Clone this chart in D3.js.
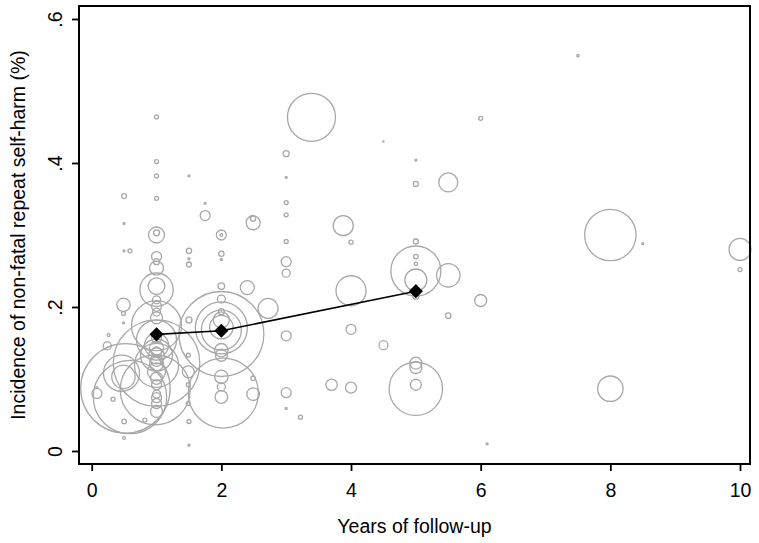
<!DOCTYPE html>
<html>
<head>
<meta charset="utf-8">
<script src="https://cdn.jsdelivr.net/npm/d3@7/dist/d3.min.js"></script>
<style>
  html, body { margin: 0; padding: 0; background: #fff; }
  svg { display: block; font-family: "Liberation Sans", Arial, sans-serif; }
</style>
</head>
<body>
<svg id="chart" width="759" height="543"></svg>
<script>
// ---- Data: study-level estimates (bubble size = study weight) ----
const years = [
  3.39, 8.0, 8.0, 10.0, 10.0, 8.5, 6.0, 6.1, 7.5, 6.0,
  3.0, 3.0, 3.0, 3.0, 3.0, 3.0, 3.0, 4.5, 5.0, 5.0,
  5.5, 3.88, 4.0, 5.0, 5.0, 5.0, 5.0, 5.0, 5.0, 5.5,
  4.0, 5.5, 4.0, 4.5, 5.0, 5.0, 5.0, 5.0, 3.7, 4.0,
  3.22, 1.75, 1.75, 2.49, 2.49, 2.0, 2.0, 1.5, 1.5, 1.5,
  2.0, 2.0, 2.4, 2.72, 3.0, 2.0, 2.0, 2.0, 2.0, 2.0,
  2.0, 1.5, 2.0, 2.0, 2.03, 2.0, 2.0, 2.0, 2.49, 2.49,
  1.5, 1.5, 3.0, 3.0, 0.5, 1.0, 1.0, 1.0, 1.0, 1.5,
  0.5, 1.0, 1.0, 0.5, 0.59, 1.0, 1.0, 1.0, 1.0, 1.0,
  0.49, 0.49, 0.49, 1.0, 0.52, 0.59, 0.98, 0.46, 0.49, 1.0,
  0.08, 0.33, 0.5, 0.82, 0.5, 0.26, 0.24, 1.49, 1.49, 1.0,
  1.0, 1.49, 1.0, 1.0, 1.0, 1.0, 1.0, 1.0, 1.0, 1.0,
  1.0, 1.0, 1.0, 1.0, 1.0, 1.0, 1.0, 1.0, 1.0, 1.0,
  1.0, 1.49, 2.0, 2.0, 0.08
];
const incidence = [
  0.4635, 0.300, 0.0865, 0.280, 0.252, 0.288, 0.209, 0.010, 0.549, 0.462,
  0.413, 0.380, 0.345, 0.328, 0.291, 0.263, 0.247, 0.430, 0.404, 0.371,
  0.373, 0.313, 0.290, 0.291, 0.270, 0.260, 0.250, 0.2375, 0.215, 0.244,
  0.2226, 0.188, 0.169, 0.147, 0.122, 0.116, 0.0865, 0.092, 0.092, 0.088,
  0.047, 0.327, 0.344, 0.317, 0.323, 0.300, 0.300, 0.278, 0.259, 0.267,
  0.274, 0.266, 0.227, 0.198, 0.160, 0.1625, 0.171, 0.168, 0.172, 0.229,
  0.211, 0.182, 0.140, 0.133, 0.0805, 0.103, 0.089, 0.075, 0.079, 0.101,
  0.041, 0.008, 0.081, 0.059, 0.354, 0.464, 0.402, 0.382, 0.351, 0.382,
  0.316, 0.300, 0.303, 0.278, 0.278, 0.270, 0.263, 0.254, 0.224, 0.229,
  0.203, 0.191, 0.178, 0.122, 0.087, 0.075, 0.085, 0.108, 0.103, 0.174,
  0.080, 0.072, 0.041, 0.043, 0.018, 0.161, 0.146, 0.092, 0.066, 0.055,
  0.066, 0.110, 0.210, 0.201, 0.193, 0.185, 0.147, 0.133, 0.119, 0.154,
  0.143, 0.132, 0.121, 0.110, 0.101, 0.092, 0.079, 0.074, 0.1375, 0.126,
  0.157, 0.133, 0.1935, 0.182, 0.088
];
const weights = [
  2304, 2642, 645, 484, 16, 4, 144, 4, 6, 16,
  36, 4, 16, 16, 16, 100, 64, 1.5, 4, 25,
  361, 400, 16, 25, 21, 12, 2500, 484, 36, 548,
  900, 29, 100, 81, 144, 144, 2850, 121, 130, 121,
  16, 100, 4, 196, 29, 100, 7, 29, 25, 4,
  29, 4, 196, 400, 100, 7225, 2704, 1600, 548, 44,
  64, 36, 180, 144, 4900, 180, 64, 160, 160, 21,
  16, 4, 100, 4, 25, 16, 16, 16, 16, 4,
  4, 256, 36, 4, 16, 100, 36, 196, 1115, 276,
  180, 16, 4, 7500, 8000, 5390, 4900, 1300, 548, 2500,
  100, 16, 21, 16, 9, 9, 64, 16, 16, 144,
  100, 144, 64, 100, 64, 144, 576, 1024, 1936, 1600,
  196, 256, 196, 324, 144, 100, 64, 100, 100, 144,
  100, 16, 36, 256, 4
];

// ---- Pooled estimates by follow-up period ----
const pooledYears = [1, 2, 5];
const pooledIncidence = [0.162, 0.167, 0.222];

// ---- Axis ticks ----
const xTicks = [0, 2, 4, 6, 8, 10];
const xTickLabels = ["0", "2", "4", "6", "8", "10"];
const yTicks = [0, 0.2, 0.4, 0.6];
const yTickLabels = ["0", ".2", ".4", ".6"];

const xTitle = "Years of follow-up";
const yTitle = "Incidence of non-fatal repeat self-harm (%)";

// ---- Layout ----
const svg = d3.select("#chart");
const box = { left: 79, top: 6, right: 750, bottom: 464 };
const x = d3.scaleLinear().domain([0, 10]).range([91.7, 740]);
const y = d3.scaleLinear().domain([0, 0.6]).range([451, 19.0]);
const r = d3.scaleSqrt().domain([0, 10000]).range([0, 50]);
const fontSize = 19.5;

const studies = years.map((v, i) => ({ x: v, y: incidence[i], w: weights[i] }))
  .sort((a, b) => b.w - a.w);

// bubbles
svg.append("g")
  .selectAll("circle")
  .data(studies)
  .join("circle")
  .attr("cx", d => x(d.x))
  .attr("cy", d => y(d.y))
  .attr("r", d => Math.max(r(d.w), 0.6))
  .attr("fill", "none")
  .attr("stroke", "#a8a8a8")
  .attr("stroke-width", 1.3);

// pooled line + diamonds
const pooled = pooledYears.map((v, i) => ({ x: v, y: pooledIncidence[i] }));
svg.append("path")
  .datum(pooled)
  .attr("fill", "none")
  .attr("stroke", "#000")
  .attr("stroke-width", 1.6)
  .attr("d", d3.line().x(d => x(d.x)).y(d => y(d.y)));

svg.append("g")
  .selectAll("path")
  .data(pooled)
  .join("path")
  .attr("d", d3.symbol(d3.symbolSquare, 100))
  .attr("transform", d => `translate(${x(d.x)},${y(d.y)}) rotate(45)`)
  .attr("fill", "#000");

// plot box
svg.append("rect")
  .attr("x", box.left).attr("y", box.top)
  .attr("width", box.right - box.left).attr("height", box.bottom - box.top)
  .attr("fill", "none").attr("stroke", "#000").attr("stroke-width", 2);

// x axis
const xAxis = svg.append("g")
  .attr("transform", `translate(0,${box.bottom})`)
  .call(d3.axisBottom(x).tickValues(xTicks)
    .tickFormat((d, i) => xTickLabels[i]).tickSize(7).tickSizeOuter(0).tickPadding(12));
xAxis.select(".domain").remove();
xAxis.selectAll("line").attr("stroke", "#000").attr("stroke-width", 1.8);
xAxis.selectAll("text").attr("font-size", fontSize).attr("fill", "#000")
  .attr("font-family", "Liberation Sans, Arial, sans-serif");

// y axis
const yAxis = svg.append("g")
  .attr("transform", `translate(${box.left},0)`)
  .call(d3.axisLeft(y).tickValues(yTicks)
    .tickFormat((d, i) => yTickLabels[i]).tickSize(7).tickSizeOuter(0));
yAxis.select(".domain").remove();
yAxis.selectAll("line").attr("stroke", "#000").attr("stroke-width", 1.8);
yAxis.selectAll("text")
  .attr("font-size", fontSize).attr("fill", "#000")
  .attr("font-family", "Liberation Sans, Arial, sans-serif")
  .attr("text-anchor", "middle")
  .attr("transform", "rotate(-90)")
  .attr("x", 0).attr("y", -17.3).attr("dy", 0);

// titles
svg.append("text")
  .attr("x", (box.left + box.right) / 2).attr("y", 533.3)
  .attr("text-anchor", "middle").attr("font-size", fontSize).attr("fill", "#000")
  .text(xTitle);
svg.append("text")
  .attr("transform", `translate(25,${(box.top + box.bottom) / 2}) rotate(-90)`)
  .attr("text-anchor", "middle").attr("font-size", fontSize).attr("fill", "#000")
  .text(yTitle);
</script>
</body>
</html>
